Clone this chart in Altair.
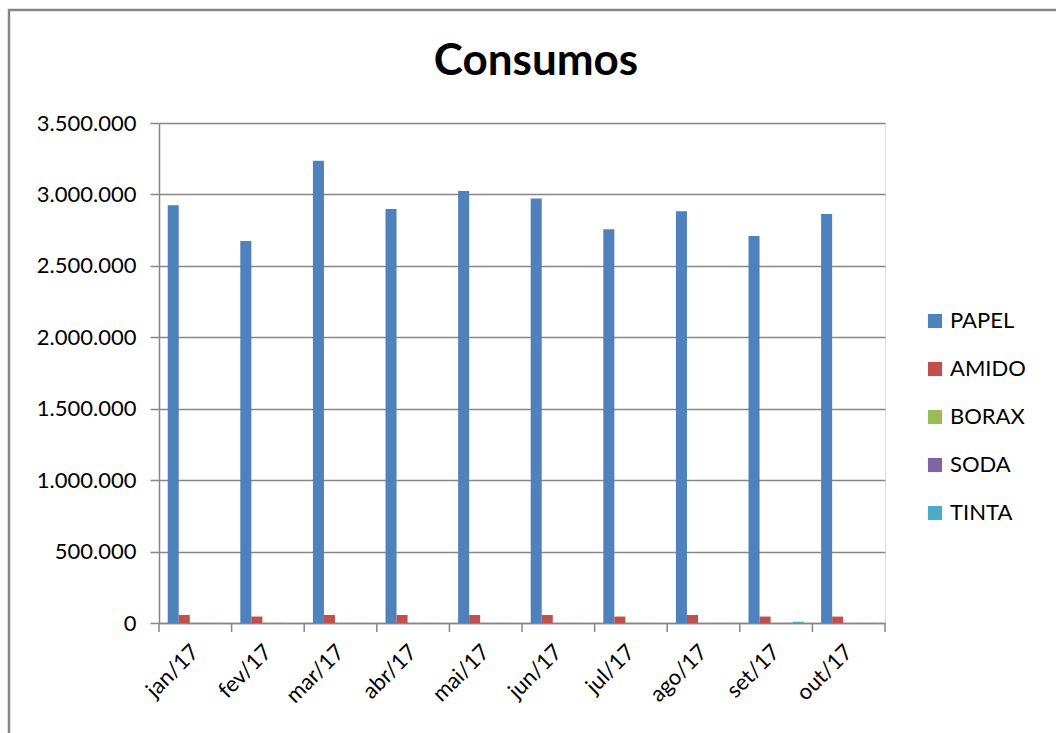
import altair as alt
import pandas as pd

months = ["jan/17", "fev/17", "mar/17", "abr/17", "mai/17", "jun/17",
          "jul/17", "ago/17", "set/17", "out/17"]
series = ["PAPEL", "AMIDO", "BORAX", "SODA", "TINTA"]
colors = ["#4F81BD", "#C0504D", "#9BBB59", "#8064A2", "#4BACC6"]
title_text = "Consumos"

papel = [2925000, 2674000, 3236000, 2898000, 3024000, 2971000, 2756000, 2882000, 2709000, 2863000]
amido = [56000, 45000, 56000, 56000, 56000, 56000, 45000, 56000, 45000, 45000]
borax = [500, 500, 500, 500, 500, 500, 500, 500, 500, 500]
soda = [400, 400, 400, 400, 400, 400, 400, 400, 400, 400]
tinta = [500, 500, 500, 500, 500, 500, 500, 500, 9000, 500]

values = {"PAPEL": papel, "AMIDO": amido, "BORAX": borax, "SODA": soda, "TINTA": tinta}
rows = []
for s in series:
    for m, v in zip(months, values[s]):
        rows.append({"Mes": m, "Serie": s, "Valor": v})
df = pd.DataFrame(rows)
df_months = pd.DataFrame({"Mes": months})

FONT = "Lato"
GRID = "#868686"
FS = 22
W, H = 726, 500

xscale = alt.Scale(paddingInner=0.24, paddingOuter=0.12)

bars = alt.Chart(df).mark_bar(stroke=None).encode(
    x=alt.X("Mes:N", sort=months, title=None, scale=xscale,
            axis=alt.Axis(labelAngle=315, labelFontSize=FS, labelColor="black",
                          labelFont=FONT, ticks=False, labelOffset=-7,
                          domainColor=GRID, domainWidth=1.5,
                          labelPadding=18, grid=False)),
    xOffset=alt.XOffset("Serie:N", sort=series),
    y=alt.Y("Valor:Q", title=None,
            scale=alt.Scale(domain=[0, 3500000], nice=False),
            axis=alt.Axis(values=[0, 500000, 1000000, 1500000, 2000000, 2500000, 3000000, 3500000],
                          labelExpr="replace(format(datum.value, ','), regexp(',', 'g'), '.')",
                          labelFontSize=FS, labelColor="black", labelFont=FONT,
                          tickSize=9, tickColor=GRID, tickWidth=1.5,
                          domainColor=GRID, domainWidth=1.5, labelPadding=14,
                          grid=True, gridColor=GRID, gridWidth=1.3)),
    color=alt.Color("Serie:N", sort=series,
                    scale=alt.Scale(domain=series, range=colors),
                    legend=alt.Legend(title=None, orient="none", legendX=765, legendY=187,
                                      symbolType="square", symbolSize=200,
                                      symbolStrokeWidth=0, labelFontSize=FS,
                                      labelFont=FONT, labelColor="black",
                                      labelOffset=4, rowPadding=26, padding=0)),
)

# category boundary ticks on the x axis
xticks = alt.Chart(df_months).mark_rule(color=GRID, strokeWidth=1.5, xOffset=-8.7).encode(
    x=alt.X("Mes:N", sort=months, bandPosition=0, scale=xscale),
    y=alt.value(H), y2=alt.value(H + 9),
)
xtick_end = alt.Chart(alt.Data(values=[{}])).mark_rule(color=GRID, strokeWidth=1.5).encode(
    x=alt.value(W), y=alt.value(H), y2=alt.value(H + 9),
)

border = alt.Chart(alt.Data(values=[{}])).mark_rect(
    fill=None, stroke="#868686", strokeWidth=2.5
).encode(
    x=alt.value(-150), x2=alt.value(1000),
    y=alt.value(-113), y2=alt.value(700),
)

title = alt.Chart(alt.Data(values=[{"t": title_text}])).mark_text(
    font=FONT, fontSize=44, fontWeight="bold", color="black",
    align="center", baseline="middle"
).encode(
    text="t:N", x=alt.value(377), y=alt.value(-61),
)

chart = alt.layer(border, bars, xticks, xtick_end, title).properties(
    width=W, height=H,
    padding={"left": 159, "top": 123, "right": 171, "bottom": 110},
    autosize=alt.AutoSizeParams(type="none"),
).configure_view(stroke=None).configure(background="white")

chart.save("out.html", embed_options={"renderer": "svg", "actions": False})
